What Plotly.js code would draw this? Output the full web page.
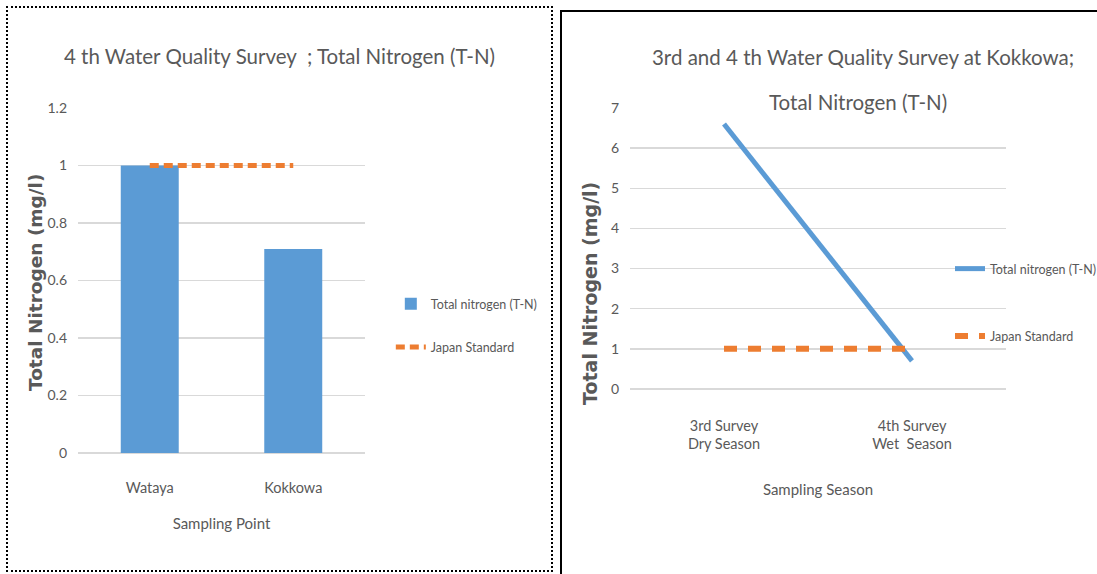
<!DOCTYPE html>
<html>
<head>
<meta charset="utf-8">
<script src="https://cdn.plot.ly/plotly-3.0.1.min.js"></script>
<style>
html,body{margin:0;padding:0;background:#fff;width:1097px;height:574px;overflow:hidden;position:relative;}
#c1{position:absolute;left:6px;top:6px;width:543px;height:562px;border:2px dotted #000;}
#c2{position:absolute;left:560px;top:10px;width:580px;height:570px;border:2px solid #000;}
</style>
</head>
<body>
<div id="c1"></div>
<div id="c2"></div>
<script>
// ---- Chart 1 data ----
const pointCategories = ["Wataya", "Kokkowa"];
const pointTN = [1.0, 0.71];
const pointStandard = [1, 1];

// ---- Chart 2 data ----
const seasonCategories = ["3rd Survey<br>Dry Season", "4th Survey<br>Wet  Season"];
const seasonTN = [6.6, 0.7];
const seasonStandard = [1, 1];

const FONT = "Lato, 'Liberation Sans', sans-serif";
const BOLD = "'DejaVu Sans', Verdana, sans-serif";
const GRAY = "#595959";
const BLUE = "#5b9bd5";
const ORANGE = "#ed7d31";
const GRID = "#d9d9d9";

// ---- Chart 1 ----
Plotly.newPlot("c1", [
  {type: "bar", name: "Total nitrogen (T-N)", x: pointCategories, y: pointTN,
   marker: {color: BLUE}, width: 0.404, legendgroup: "a"},
  {type: "scatter", mode: "lines", name: "Japan Standard", x: pointCategories, y: pointStandard,
   line: {color: ORANGE, width: 5, dash: "9px,5px"}, legendgroup: "b"}
], {
  width: 543, height: 562,
  margin: {l: 70, r: 186, t: 100, b: 117},
  paper_bgcolor: "#fff", plot_bgcolor: "#fff",
  font: {family: FONT, color: GRAY, size: 14},
  title: {text: "4 th Water Quality Survey  ; Total Nitrogen (T-N)", xref: "container", x: 0.5, yref: "container", y: 1 - 49/562, yanchor: "middle",
          font: {family: FONT, size: 20.5, color: GRAY}},
  annotations: [
    {text: "Total Nitrogen (mg/l)", xref: "paper", yref: "paper", x: -(78 - 35) / 287, y: (453 - 283) / 345,
     xanchor: "center", yanchor: "middle", textangle: -90, showarrow: false,
     font: {family: BOLD, weight: "bold", size: 18.5, color: GRAY}}
  ],
  xaxis: {showgrid: false, showline: false, zeroline: false, ticks: "", ticklabelstandoff: 24,
          tickfont: {size: 14.5},
          title: {text: "Sampling Point", standoff: 23, font: {family: FONT, size: 15, color: GRAY}}},
  yaxis: {range: [0, 1.2], dtick: 0.2, showgrid: true, gridcolor: GRID, gridwidth: 1.5,
          zeroline: true, zerolinecolor: GRID, zerolinewidth: 1.5, showline: false, ticks: "",
          ticklabelstandoff: 10, tickfont: {size: 14}},
  showlegend: true,
  legend: {xref: "container", yref: "container", x: 0.705, y: 1 - 281/562, xanchor: "left", yanchor: "top",
           bgcolor: "rgba(0,0,0,0)", font: {family: FONT, size: 12.5, color: GRAY}, tracegroupgap: 24, traceorder: "grouped"},
  bargap: 0.6
}, {displayModeBar: false, staticPlot: true});

// ---- Chart 2 ----
Plotly.newPlot("c2", [
  {type: "scatter", mode: "lines", name: "Total nitrogen (T-N)", x: seasonCategories, y: seasonTN,
   line: {color: BLUE, width: 5}, legendgroup: "a"},
  {type: "scatter", mode: "lines", name: "Japan Standard", x: seasonCategories, y: seasonStandard,
   line: {color: ORANGE, width: 6, dash: "13px,11px"}, legendgroup: "b"}
], {
  width: 580, height: 570,
  margin: {l: 68, r: 136, t: 96, b: 193},
  paper_bgcolor: "#fff", plot_bgcolor: "#fff",
  font: {family: FONT, color: GRAY, size: 14},
  title: {text: "3rd and 4 th Water Quality Survey at Kokkowa;", xref: "container", x: 301/580, yref: "container", y: 1 - 46/570, yanchor: "middle",
          font: {family: FONT, size: 20.5, color: GRAY}},
  annotations: [
    {text: "Total Nitrogen (T-N)", xref: "paper", yref: "paper", x: (858 - 630) / 376, y: 1 + (108 - 102) / 281,
     xanchor: "center", yanchor: "middle", showarrow: false, font: {family: FONT, size: 20.5, color: GRAY}},
    {text: "Total Nitrogen (mg/l)", xref: "paper", yref: "paper", x: -(630 - 590) / 376, y: (389 - 294) / 281,
     xanchor: "center", yanchor: "middle", textangle: -90, showarrow: false,
     font: {family: BOLD, weight: "bold", size: 19, color: GRAY}}
  ],
  xaxis: {showgrid: false, showline: false, zeroline: false, ticks: "", ticklabelstandoff: 26,
          tickfont: {size: 14.5}, range: [-0.5, 1.5],
          title: {text: "Sampling Season", standoff: 33, font: {family: FONT, size: 15, color: GRAY}}},
  yaxis: {range: [0, 7], dtick: 1, showgrid: true, gridcolor: GRID, gridwidth: 1.5,
          zeroline: true, zerolinecolor: GRID, zerolinewidth: 1.5, showline: false, ticks: "",
          ticklabelstandoff: 10, tickfont: {size: 14}},
  showlegend: true,
  legend: {xref: "paper", yref: "paper", x: (388 - 68) / 376, y: 1 - (242 - 96) / 281, xanchor: "left", yanchor: "top",
           bgcolor: "rgba(0,0,0,0)", font: {family: FONT, size: 12.5, color: GRAY}, tracegroupgap: 48, traceorder: "grouped"}
}, {displayModeBar: false, staticPlot: true});
</script>
</body>
</html>
